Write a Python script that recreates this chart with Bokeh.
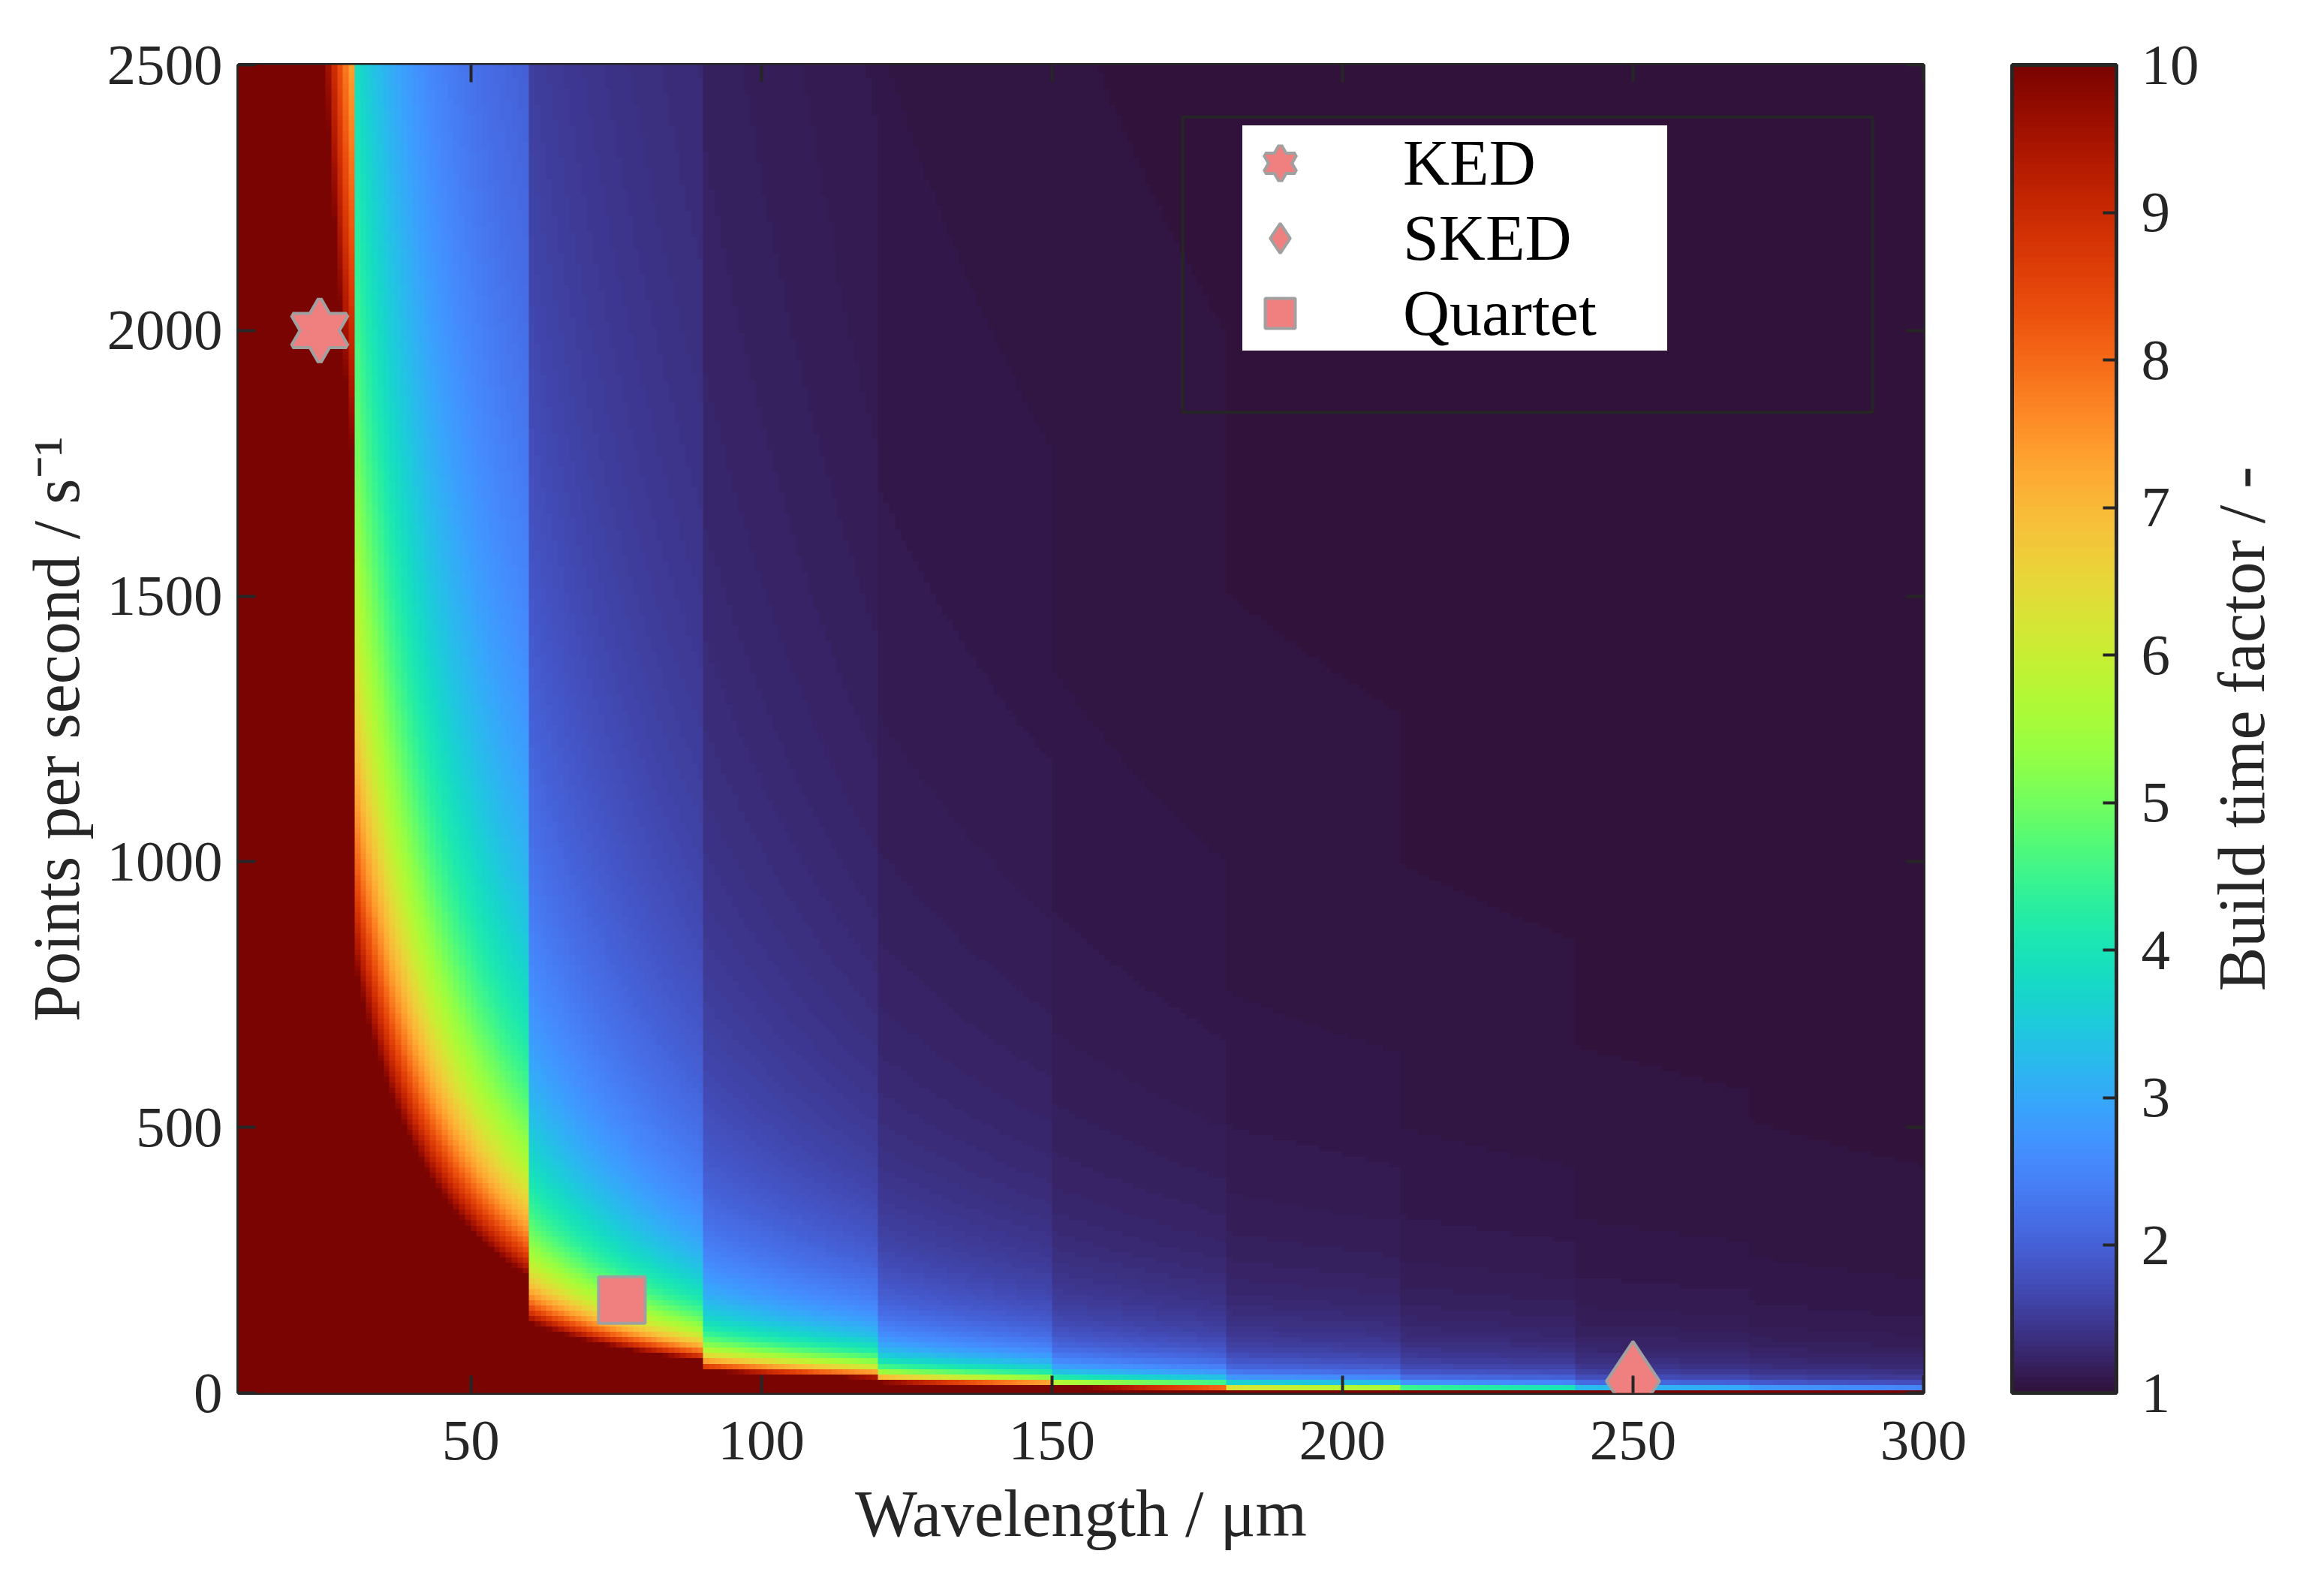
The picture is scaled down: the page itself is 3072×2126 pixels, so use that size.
import numpy as np
from bokeh.plotting import figure
from bokeh.layouts import row
from bokeh.models import (LinearColorMapper, ColorBar, LinearAxis, FixedTicker,
                          Legend, LegendItem, BoxAnnotation, Range1d, ColumnDataSource)
from bokeh.palettes import Turbo256
from bokeh.embed import file_html
from bokeh.resources import INLINE

# ---------------- data ----------------
# sampling grid of the map (column centres in um, rows in points per second)
wavelength_centres = np.arange(10.5, 300.0, 1.0)
pps_rows = np.arange(0, 2501, 10)

# wavelength bands (um) with the map values estimated at each band edge:
# build time factor ~ floor + coef / (points per second)
band_edges = [10, 30, 60, 90, 120, 150, 180, 210, 240, 270, 300]
floor_left = [1.00, 1.00, 1.10, 1.05, 1.00, 1.00, 1.00, 1.00, 1.00, 1.00]
floor_right = [1.00, 1.24, 1.10, 1.00, 1.00, 1.00, 1.00, 1.00, 1.00, 1.00]
coef_left = [138600, 7250, 1180, 380, 180, 96, 53, 35, 23, 18]
coef_right = [15400, 1900, 530, 250, 125, 70, 45, 30, 20, 15]

# printers
printer_names = ["KED", "SKED", "Quartet"]
printer_wavelength = [24, 250, 76]
printer_pps = [2000, 22, 175]

x_ticks = [50, 100, 150, 200, 250, 300]
y_ticks = [0, 500, 1000, 1500, 2000, 2500]
cbar_ticks = [1, 2, 3, 4, 5, 6, 7, 8, 9, 10]

# ---------------- build map ----------------
factor = np.zeros((len(pps_rows), len(wavelength_centres)))
pps = pps_rows.astype(float)[:, None]
for i in range(len(band_edges) - 1):
    lo, hi = band_edges[i], band_edges[i + 1]
    cols = (wavelength_centres >= lo) & (wavelength_centres < hi)
    lam = wavelength_centres[cols]
    t = (lam - lo) / (hi - lo)
    a = floor_left[i] + (floor_right[i] - floor_left[i]) * t
    k = np.log(coef_right[i] / coef_left[i]) / np.log(hi / lo)
    b = coef_left[i] * (lam / lo) ** k
    with np.errstate(divide="ignore"):
        factor[:, cols] = a[None, :] + b[None, :] / pps
factor = np.minimum(factor, 12.0)

FONT = "Liberation Serif"
INK = "#262626"
FRAME_W, FRAME_H = 2245, 1769
X0, X1 = band_edges[0], band_edges[-1]
Y0, Y1 = 0, 2500
TOP, BOTTOM = 86, 240

p = figure(frame_width=FRAME_W, frame_height=FRAME_H,
           x_range=Range1d(X0, X1), y_range=Range1d(Y0, Y1),
           output_backend="svg", toolbar_location=None,
           min_border_left=317, min_border_top=TOP, min_border_bottom=BOTTOM,
           min_border_right=372)
p.grid.visible = False
p.outline_line_color = INK
p.outline_line_width = 5
p.background_fill_color = "white"
p.border_fill_color = "white"

mapper = LinearColorMapper(palette=Turbo256, low=1, high=10)
p.image(image=[factor], x=X0, y=-5, dw=X1 - X0, dh=2510, color_mapper=mapper)

# printer markers
ked = ColumnDataSource(dict(x=[printer_wavelength[0]], y=[printer_pps[0]]))
sked = ColumnDataSource(dict(x=[printer_wavelength[1]], y=[printer_pps[1]]))
quartet = ColumnDataSource(dict(x=[printer_wavelength[2]], y=[printer_pps[2]]))
FILL = "#f08080"
EDGE = "#a0a0a0"
k1 = p.scatter("x", "y", source=ked, marker="triangle", size=72, fill_color=FILL,
               line_color=EDGE, line_width=8)
k2 = p.scatter("x", "y", source=ked, marker="inverted_triangle", size=72, fill_color=FILL,
               line_color=EDGE, line_width=8)
k3 = p.scatter("x", "y", source=ked, marker="triangle", size=72, fill_color=FILL,
               line_color=None)
k4 = p.scatter("x", "y", source=ked, marker="inverted_triangle", size=72, fill_color=FILL,
               line_color=None)
s1 = p.scatter("x", "y", source=sked, marker="diamond", size=106, fill_color=FILL,
               line_color=EDGE, line_width=4)
q1 = p.scatter("x", "y", source=quartet, marker="square", size=62, fill_color=FILL,
               line_color=EDGE, line_width=4)

# axes
def style_axis(ax):
    ax.major_tick_in = 23
    ax.major_tick_out = 0
    ax.minor_tick_line_color = None
    ax.major_tick_line_width = 4
    ax.major_tick_line_color = INK
    ax.axis_line_color = None
    ax.major_label_text_font = FONT
    ax.major_label_text_font_size = "77px"
    ax.major_label_text_color = INK
    ax.axis_label_text_font = FONT
    ax.axis_label_text_font_size = "88px"
    ax.axis_label_text_font_style = "normal"
    ax.axis_label_text_color = INK

p.xaxis.ticker = FixedTicker(ticks=x_ticks)
p.yaxis.ticker = FixedTicker(ticks=y_ticks)
p.xaxis.axis_label = "Wavelength / \u03bcm"
p.yaxis.axis_label = "Points per second / s\u207b\u00b9"
for ax in p.xaxis + p.yaxis:
    style_axis(ax)
p.xaxis.major_label_standoff = 38
p.xaxis.axis_label_standoff = 21
p.yaxis.major_label_standoff = 21
p.yaxis.axis_label_standoff = 16

top = LinearAxis(ticker=FixedTicker(ticks=x_ticks),
                 major_label_overrides={v: "" for v in x_ticks})
style_axis(top)
top.major_label_standoff = 0
p.add_layout(top, "above")

right = LinearAxis(ticker=FixedTicker(ticks=y_ticks),
                   major_label_overrides={v: "" for v in y_ticks})
style_axis(right)
right.major_label_standoff = 0
p.add_layout(right, "right")

cb = ColorBar(color_mapper=mapper, ticker=FixedTicker(ticks=cbar_ticks),
              width=139, height=FRAME_H, location=(118, 0), margin=0, padding=0,
              major_tick_in=18, major_tick_out=0, major_tick_line_color=INK,
              major_tick_line_width=4, minor_tick_line_color=None,
              bar_line_color=INK, bar_line_width=5,
              major_label_text_font=FONT, major_label_text_font_size="77px",
              major_label_text_color=INK, label_standoff=33,
              background_fill_color=None, border_line_color=None)
p.add_layout(cb, "right")

# legend frame (outer dark box) and legend
p.add_layout(BoxAnnotation(left=172.5, right=291.2, bottom=1846, top=2402,
                           fill_alpha=0, line_color=INK, line_alpha=1, line_width=4))
legend = Legend(items=[LegendItem(label=printer_names[0], renderers=[k1, k2, k3, k4]),
                       LegendItem(label=printer_names[1], renderers=[s1]),
                       LegendItem(label=printer_names[2], renderers=[q1])],
                location=(1338, 1388), padding=4, spacing=0,
                glyph_height=100, glyph_width=100, label_standoff=114,
                label_width=352,
                label_text_font=FONT, label_text_font_size="86px",
                label_text_color="black",
                background_fill_color="white", background_fill_alpha=1,
                border_line_color=None, margin=0)
p.add_layout(legend)

# colour-bar title: a narrow companion panel whose left axis carries the label
q = figure(frame_width=4, frame_height=FRAME_H, x_range=Range1d(0, 1),
           y_range=p.y_range, output_backend="svg", toolbar_location=None,
           min_border_left=0, min_border_right=0, min_border_top=TOP,
           min_border_bottom=BOTTOM)
q.xaxis.visible = False
q.grid.visible = False
q.outline_line_color = None
q.background_fill_color = "white"
q.border_fill_color = "white"
q.yaxis.ticker = FixedTicker(ticks=[])
q.yaxis.axis_label = "Build time factor / -"
style_axis(q.yaxis[0])
q.yaxis.major_tick_line_color = None
q.yaxis.axis_label_standoff = 0

layout = row(p, q, spacing=0)
open("out.html", "w").write(file_html(layout, INLINE))
